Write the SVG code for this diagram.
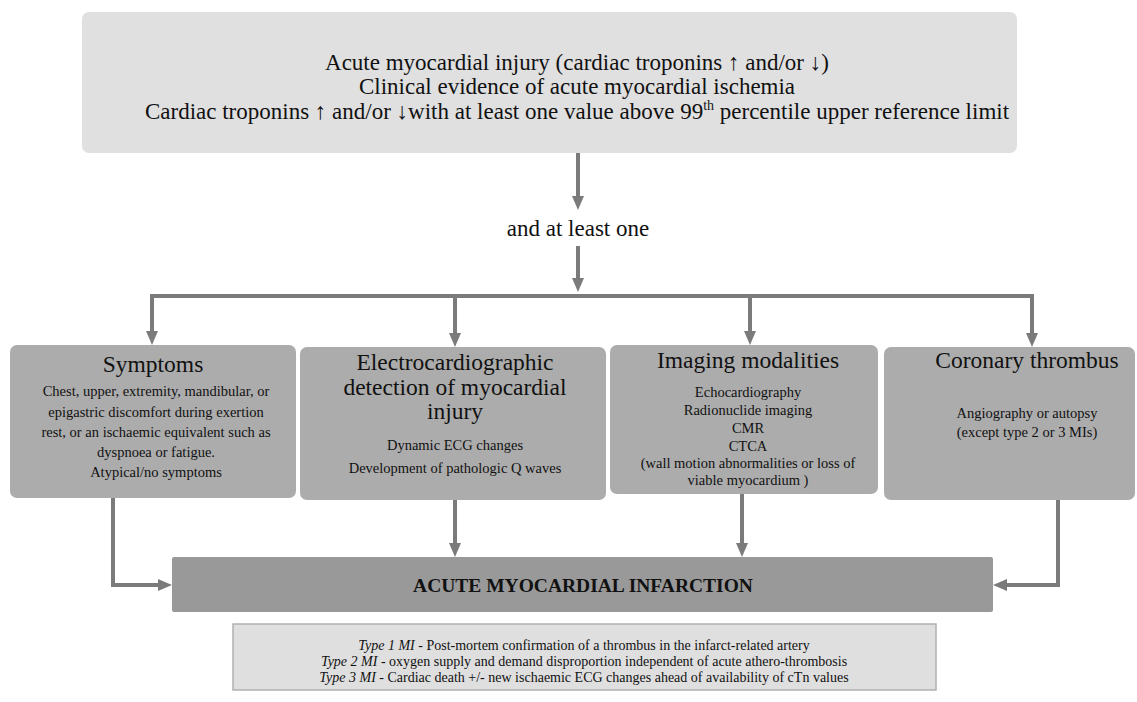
<svg xmlns="http://www.w3.org/2000/svg" width="1137" height="702" viewBox="0 0 1137 702">
<defs>
<marker id="ah" viewBox="0 0 14 12" refX="2" refY="6" markerWidth="14" markerHeight="12" markerUnits="userSpaceOnUse" orient="auto">
<path d="M0,0 L14,6 L0,12 z" fill="#7b7b7b"/>
</marker>
</defs>
<style>
text{font-family:"Liberation Serif","Times New Roman",serif;fill:#111;text-anchor:middle}
.top{font-size:23px}
.ttl{font-size:23.5px}
.body{font-size:14.5px}
.small{font-size:14px}
.cat{fill:#acacac}
.ln{stroke:#7b7b7b;stroke-width:4;fill:none}
.arr{stroke:#7b7b7b;stroke-width:4;fill:none;marker-end:url(#ah)}
</style>
<rect width="1137" height="702" fill="#ffffff"/>

<g id="criteria">
<rect x="82" y="12" width="935" height="141" rx="7" fill="#e0e0e0"/>
<text class="top" x="577" y="70">Acute myocardial injury  (cardiac troponins ↑ and/or ↓)</text>
<text class="top" x="577" y="94">Clinical evidence of acute myocardial ischemia</text>
<text class="top" x="577" y="119">Cardiac troponins ↑ and/or ↓with at least one value above 99<tspan font-size="14" dy="-9">th</tspan><tspan dy="9"> percentile upper reference limit</tspan></text>
</g>

<g id="and-label">
<text class="top" x="578" y="236">and at least one</text>
</g>

<g id="symptoms">
<rect class="cat" x="10" y="345" width="286" height="153" rx="7"/>
<text class="ttl" x="153" y="372">Symptoms</text>
<text class="body" x="156" y="396" font-size="15">Chest, upper,  extremity, mandibular, or</text>
<text class="body" x="156" y="417" font-size="15">epigastric discomfort during exertion</text>
<text class="body" x="156" y="437" font-size="15">rest, or an ischaemic equivalent such as</text>
<text class="body" x="156" y="457" font-size="15">dyspnoea  or fatigue.</text>
<text class="body" x="156" y="477" font-size="15">Atypical/no symptoms</text>
</g>

<g id="ecg">
<rect class="cat" x="300" y="347" width="306" height="153" rx="7"/>
<text class="ttl" x="455" y="370">Electrocardiographic</text>
<text class="ttl" x="455" y="395">detection of myocardial</text>
<text class="ttl" x="455" y="419">injury</text>
<text class="body" x="455" y="450">Dynamic ECG changes</text>
<text class="body" x="455" y="473">Development of pathologic Q waves</text>
</g>

<g id="imaging">
<rect class="cat" x="610" y="345" width="268" height="149" rx="7"/>
<text class="ttl" x="748" y="368">Imaging modalities</text>
<text class="body" x="748" y="397" font-size="14">Echocardiography</text>
<text class="body" x="748" y="415" font-size="14">Radionuclide imaging</text>
<text class="body" x="748" y="433" font-size="14">CMR</text>
<text class="body" x="748" y="451" font-size="14">CTCA</text>
<text class="body" x="748" y="468" font-size="14">(wall motion abnormalities or loss of</text>
<text class="body" x="748" y="485" font-size="14">viable myocardium )</text>
</g>

<g id="thrombus">
<rect class="cat" x="884" y="347" width="251" height="153" rx="7"/>
<text class="ttl" x="1027" y="368">Coronary thrombus</text>
<text class="body" x="1027" y="418" font-size="15">Angiography or autopsy</text>
<text class="body" x="1027" y="437" font-size="15"> (except type 2 or 3 MIs)</text>
</g>

<g id="ami">
<rect x="172" y="557" width="821" height="55" rx="2" fill="#999999"/>
<text x="583" y="592" font-size="19.5" font-weight="bold">ACUTE MYOCARDIAL INFARCTION</text>
</g>

<g id="types">
<rect x="233" y="624" width="703" height="66" fill="#dfdfdf" stroke="#b0b0b0" stroke-width="1.5"/>
<text class="small" x="584" y="650"><tspan font-style="italic">Type 1 MI</tspan> - Post-mortem confirmation of a thrombus in the infarct-related artery</text>
<text class="small" x="584" y="666"><tspan font-style="italic">Type 2 MI</tspan> - oxygen supply and demand disproportion independent  of acute athero-thrombosis</text>
<text class="small" x="584" y="682"><tspan font-style="italic">Type 3 MI</tspan> - Cardiac death +/- new ischaemic ECG changes ahead of availability of cTn values</text>
</g>

<g id="connectors">
<path class="arr" d="M578,153 V198"/>
<path class="arr" d="M578,246 V280"/>
<path class="ln" d="M150,296 H1034"/>
<path class="arr" d="M152,296 V333"/>
<path class="arr" d="M455,296 V335"/>
<path class="arr" d="M750,296 V333"/>
<path class="arr" d="M1032,296 V335"/>
<path class="arr" d="M455,500 V545"/>
<path class="arr" d="M742,494 V545"/>
<path class="arr" d="M113,498 V585 H160"/>
<path class="arr" d="M1058,500 V585 H1005"/>
</g>
</svg>
